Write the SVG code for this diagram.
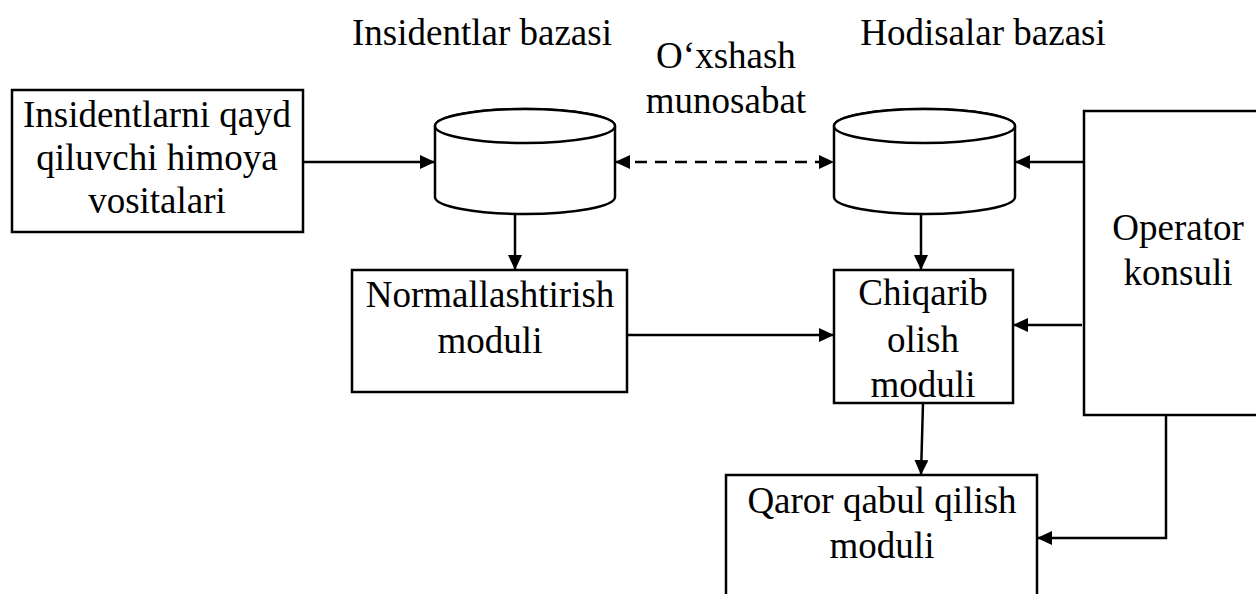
<svg xmlns="http://www.w3.org/2000/svg" width="1256" height="594" viewBox="0 0 1256 594">
  <style>
    .box { fill: #fff; stroke: #000; stroke-width: 2.5; }
    .edge { fill: none; stroke: #000; stroke-width: 2.5; }
    .dash { stroke-dasharray: 12 8; }
    text { font-family: "Liberation Serif", "Times New Roman", serif; font-size: 37px; fill: #000; text-anchor: middle; }
  </style>
  <defs>
    <marker id="arrow" markerUnits="userSpaceOnUse" markerWidth="16" markerHeight="16" refX="15" refY="7" orient="auto-start-reverse">
      <path d="M0,0 L15,7 L0,14 z" fill="#000"/>
    </marker>
  </defs>

  <rect width="1256" height="594" fill="#fff"/>

  <!-- free labels -->
  <g id="labels">
    <text x="482" y="45">Insidentlar bazasi</text>
    <text x="983" y="45">Hodisalar bazasi</text>
    <text x="726" y="68">O‘xshash</text>
    <text x="726" y="113">munosabat</text>
  </g>

  <!-- connectors -->
  <g id="connectors">
    <line class="edge" x1="303" y1="162" x2="435" y2="162" marker-end="url(#arrow)"/>
    <line class="edge dash" x1="615" y1="162" x2="834" y2="162" marker-start="url(#arrow)" marker-end="url(#arrow)"/>
    <line class="edge" x1="1084" y1="162" x2="1015" y2="162" marker-end="url(#arrow)"/>
    <line class="edge" x1="515" y1="214" x2="515" y2="270" marker-end="url(#arrow)"/>
    <line class="edge" x1="921" y1="215" x2="921" y2="270" marker-end="url(#arrow)"/>
    <line class="edge" x1="627" y1="335" x2="834" y2="335" marker-end="url(#arrow)"/>
    <line class="edge" x1="1082" y1="325" x2="1013" y2="325" marker-end="url(#arrow)"/>
    <line class="edge" x1="923" y1="403" x2="921" y2="475" marker-end="url(#arrow)"/>
    <polyline class="edge" points="1166,415 1166,538 1037,538" marker-end="url(#arrow)"/>
  </g>

  <g id="node-sources">
    <rect class="box" x="12" y="90" width="291" height="142"/>
    <text x="157" y="127">Insidentlarni qayd</text>
    <text x="157" y="170">qiluvchi himoya</text>
    <text x="157" y="213">vositalari</text>
  </g>

  <g id="node-incident-db">
    <path class="box" d="M435,126 L435,197 A90,17 0 0 0 615,197 L615,126 A90,17 0 0 0 435,126 Z"/>
    <ellipse class="box" cx="525" cy="126" rx="90" ry="17"/>
  </g>

  <g id="node-event-db">
    <path class="box" d="M834,126 L834,197 A90.5,17 0 0 0 1015,197 L1015,126 A90.5,17 0 0 0 834,126 Z"/>
    <ellipse class="box" cx="924.5" cy="126" rx="90.5" ry="17"/>
  </g>

  <g id="node-normalize">
    <rect class="box" x="352" y="270" width="275" height="122"/>
    <text x="490" y="307">Normallashtirish</text>
    <text x="490" y="353">moduli</text>
  </g>

  <g id="node-extract">
    <rect class="box" x="834" y="270" width="179" height="133"/>
    <text x="923" y="305">Chiqarib</text>
    <text x="923" y="352">olish</text>
    <text x="923" y="397">moduli</text>
  </g>

  <g id="node-operator">
    <rect class="box" x="1084" y="111" width="190" height="304"/>
    <text x="1178" y="240">Operator</text>
    <text x="1178" y="285">konsuli</text>
  </g>

  <g id="node-decision">
    <rect class="box" x="726" y="475" width="311" height="130"/>
    <text x="882" y="513">Qaror qabul qilish</text>
    <text x="882" y="558">moduli</text>
  </g>
</svg>
